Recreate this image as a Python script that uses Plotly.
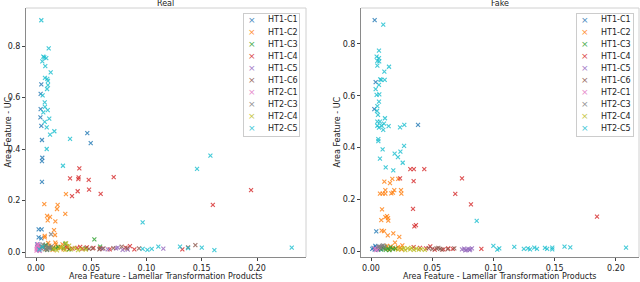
import plotly.graph_objects as go

W, H = 640, 282

names = ["HT1-C1", "HT1-C2", "HT1-C3", "HT1-C4", "HT1-C5",
         "HT1-C6", "HT2-C1", "HT2-C3", "HT2-C4", "HT2-C5"]
colors = ["#1f77b4", "#ff7f0e", "#2ca02c", "#d62728", "#9467bd",
          "#8c564b", "#e377c2", "#7f7f7f", "#bcbd22", "#17becf"]

x_ticks = [0.00, 0.05, 0.10, 0.15, 0.20]
y_ticks = [0.0, 0.2, 0.4, 0.6, 0.8]

# ---------------- Real ----------------
real_ht1_c1 = [(0.0048, 0.651), (0.0042, 0.614), (0.0042, 0.555), (0.0040, 0.523),
               (0.0048, 0.490), (0.0464, 0.462), (0.0054, 0.435), (0.0495, 0.423),
               (0.0057, 0.366), (0.0054, 0.353), (0.0054, 0.272), (0.0024, 0.088),
               (0.0051, 0.088), (0.0048, 0.053), (0.0024, 0.057), (0.0010, 0.030),
               (0.0020, 0.012), (0.0030, 0.006), (0.0015, 0.020), (0.0040, 0.015),
               (0.0025, 0.025)]
real_ht1_c2 = [(0.0271, 0.225), (0.0075, 0.186), (0.0196, 0.183), (0.0190, 0.167),
               (0.0265, 0.148), (0.0100, 0.140), (0.0127, 0.136), (0.0106, 0.123),
               (0.0175, 0.119), (0.0163, 0.085), (0.0172, 0.066), (0.0079, 0.063),
               (0.0079, 0.057), (0.0175, 0.036), (0.0060, 0.020), (0.0090, 0.012),
               (0.0120, 0.025), (0.0150, 0.008), (0.0180, 0.030), (0.0200, 0.015),
               (0.0220, 0.020), (0.0250, 0.010), (0.0280, 0.022), (0.0300, 0.012),
               (0.0110, 0.035), (0.0160, 0.018), (0.0240, 0.030)]
real_ht1_c3 = [(0.0528, 0.049), (0.0080, 0.025), (0.0120, 0.018), (0.0150, 0.012),
               (0.0200, 0.020), (0.0250, 0.015), (0.0265, 0.032), (0.0300, 0.010),
               (0.0450, 0.015), (0.0580, 0.021), (0.0100, 0.008), (0.0180, 0.015),
               (0.0090, 0.027)]
real_ht1_c4 = [(0.0392, 0.325), (0.0308, 0.286), (0.0386, 0.290), (0.0383, 0.283),
               (0.0477, 0.280), (0.0703, 0.291), (0.0480, 0.242), (0.0377, 0.236),
               (0.0326, 0.217), (0.0585, 0.226), (0.1946, 0.240), (0.1600, 0.183),
               (0.1324, 0.010), (0.0890, 0.010), (0.0850, 0.023), (0.0810, 0.017),
               (0.0667, 0.010), (0.0580, 0.014), (0.0460, 0.018), (0.0400, 0.020),
               (0.0370, 0.016), (0.0330, 0.013), (0.0280, 0.017), (0.0420, 0.012),
               (0.0520, 0.016)]
real_ht1_c5 = [(0.0784, 0.008), (0.0724, 0.014), (0.1152, 0.013), (0.0649, 0.010),
               (0.0600, 0.012), (0.0740, 0.017), (0.0830, 0.009)]
real_ht1_c6 = [(0.1442, 0.027), (0.1376, 0.018), (0.0932, 0.014), (0.0775, 0.021),
               (0.0824, 0.014), (0.0573, 0.010), (0.0610, 0.014), (0.0513, 0.014),
               (0.0700, 0.015), (0.0480, 0.012)]
real_ht2_c1 = [(0.0005, 0.005), (0.0010, 0.015), (0.0015, 0.028), (0.0020, 0.008),
               (0.0025, 0.020), (0.0030, 0.012), (0.0010, 0.022), (0.0035, 0.004),
               (0.0020, 0.031), (0.0005, 0.011)]
real_ht2_c3 = [(0.0136, 0.069), (0.0050, 0.020), (0.0070, 0.015), (0.0090, 0.025),
               (0.0110, 0.018), (0.0130, 0.012), (0.0060, 0.030), (0.0100, 0.008),
               (0.0140, 0.022), (0.0125, 0.016), (0.0080, 0.010)]
real_ht2_c4 = [(0.0160, 0.012), (0.0190, 0.006), (0.0220, 0.015), (0.0265, 0.008),
               (0.0272, 0.034), (0.0317, 0.010), (0.0350, 0.016), (0.0380, 0.007),
               (0.0410, 0.012), (0.0450, 0.009), (0.0240, 0.020), (0.0300, 0.025)]
real_ht2_c5 = [(0.0048, 0.900), (0.0115, 0.791), (0.0066, 0.759), (0.0075, 0.756),
               (0.0093, 0.753), (0.0057, 0.740), (0.0084, 0.722), (0.0133, 0.698),
               (0.0081, 0.676), (0.0102, 0.672), (0.0108, 0.665), (0.0108, 0.648),
               (0.0100, 0.633), (0.0060, 0.608), (0.0079, 0.581), (0.0081, 0.564),
               (0.0106, 0.551), (0.0066, 0.542), (0.0120, 0.518), (0.0079, 0.505),
               (0.0097, 0.484), (0.0166, 0.469), (0.0127, 0.456), (0.0308, 0.439),
               (0.0097, 0.400), (0.0244, 0.335), (0.1457, 0.323), (0.1578, 0.374),
               (0.0965, 0.115), (0.2314, 0.017), (0.1614, 0.007), (0.1500, 0.017),
               (0.1303, 0.021), (0.1376, 0.015), (0.1107, 0.021), (0.1047, 0.012),
               (0.1008, 0.008), (0.0965, 0.012), (0.0030, 0.010), (0.0060, 0.020)]

# ---------------- Fake ----------------
fake_ht1_c1 = [(0.0030, 0.892), (0.0038, 0.653), (0.0027, 0.548), (0.0384, 0.487),
               (0.0043, 0.076), (0.0010, 0.008), (0.0020, 0.012), (0.0030, 0.005),
               (0.0040, 0.015), (0.0050, 0.009), (0.0060, 0.004), (0.0070, 0.012),
               (0.0080, 0.007), (0.0035, 0.020), (0.0090, 0.010)]
fake_ht1_c2 = [(0.0222, 0.279), (0.0174, 0.279), (0.0109, 0.268), (0.0155, 0.262),
               (0.0190, 0.235), (0.0245, 0.235), (0.0248, 0.222), (0.0179, 0.226),
               (0.0166, 0.223), (0.0117, 0.235), (0.0117, 0.222), (0.0095, 0.222),
               (0.0073, 0.222), (0.0090, 0.161), (0.0131, 0.135), (0.0117, 0.131),
               (0.0139, 0.127), (0.0084, 0.119), (0.0141, 0.117), (0.0106, 0.077),
               (0.0087, 0.079), (0.0182, 0.068), (0.0137, 0.060), (0.0231, 0.055),
               (0.0196, 0.032), (0.0256, 0.022), (0.0120, 0.010), (0.0150, 0.005),
               (0.0180, 0.012), (0.0200, 0.008), (0.0220, 0.015), (0.0160, 0.018),
               (0.0250, 0.006), (0.0130, 0.020), (0.0240, 0.012)]
fake_ht1_c3 = [(0.0080, 0.006), (0.0100, 0.012), (0.0120, 0.004), (0.0140, 0.009),
               (0.0160, 0.014), (0.0180, 0.007), (0.0110, 0.016), (0.0200, 0.010),
               (0.0150, 0.003)]
fake_ht1_c4 = [(0.0321, 0.316), (0.0350, 0.316), (0.0435, 0.316), (0.0743, 0.281),
               (0.0348, 0.270), (0.0688, 0.221), (0.0816, 0.180), (0.0343, 0.163),
               (0.0367, 0.100), (0.0354, 0.095), (0.1845, 0.133), (0.0237, 0.281),
               (0.0901, 0.008), (0.0667, 0.008), (0.0592, 0.006), (0.0484, 0.018),
               (0.0348, 0.015), (0.0450, 0.010), (0.0520, 0.005), (0.0630, 0.010),
               (0.0400, 0.012)]
fake_ht1_c5 = [(0.0743, 0.006), (0.0760, 0.009), (0.0780, 0.004), (0.0795, 0.008),
               (0.0810, 0.006), (0.0824, 0.010), (0.0770, 0.002), (0.0805, 0.003)]
fake_ht1_c6 = [(0.0680, 0.010), (0.0627, 0.007), (0.0580, 0.005), (0.0565, 0.008),
               (0.0550, 0.012), (0.0535, 0.010), (0.0500, 0.007), (0.0470, 0.011)]
fake_ht2_c1 = [(0.0030, 0.010), (0.0050, 0.006), (0.0070, 0.015), (0.0040, 0.003),
               (0.0060, 0.011)]
fake_ht2_c3 = [(0.0070, 0.018), (0.0090, 0.020), (0.0080, 0.014), (0.0110, 0.017),
               (0.0100, 0.022), (0.0060, 0.016)]
fake_ht2_c4 = [(0.0220, 0.005), (0.0250, 0.008), (0.0280, 0.003), (0.0300, 0.010),
               (0.0320, 0.006), (0.0350, 0.004), (0.0370, 0.009), (0.0390, 0.005),
               (0.0410, 0.007), (0.0440, 0.004), (0.0270, 0.011), (0.0330, 0.012)]
fake_ht2_c5 = [(0.0100, 0.875), (0.0065, 0.774), (0.0046, 0.751), (0.0065, 0.745),
               (0.0052, 0.735), (0.0067, 0.733), (0.0052, 0.716), (0.0147, 0.712),
               (0.0109, 0.693), (0.0084, 0.661), (0.0112, 0.661), (0.0075, 0.663),
               (0.0065, 0.642), (0.0038, 0.626), (0.0046, 0.603), (0.0068, 0.605),
               (0.0065, 0.577), (0.0052, 0.560), (0.0049, 0.541), (0.0057, 0.526),
               (0.0114, 0.513), (0.0052, 0.500), (0.0073, 0.500), (0.0106, 0.492),
               (0.0052, 0.484), (0.0087, 0.484), (0.0065, 0.477), (0.0100, 0.468),
               (0.0144, 0.483), (0.0237, 0.478), (0.0272, 0.487), (0.0060, 0.432),
               (0.0060, 0.425), (0.0270, 0.406), (0.0095, 0.393), (0.0240, 0.384),
               (0.0193, 0.376), (0.0220, 0.363), (0.0073, 0.357), (0.0259, 0.341),
               (0.0120, 0.323), (0.0182, 0.312), (0.0863, 0.116), (0.2082, 0.013),
               (0.1627, 0.014), (0.1580, 0.017), (0.1480, 0.013), (0.1480, 0.006),
               (0.1438, 0.008), (0.1420, 0.012), (0.1355, 0.008), (0.1333, 0.013),
               (0.1298, 0.006), (0.1281, 0.010), (0.1248, 0.008), (0.1170, 0.016),
               (0.1047, 0.010), (0.1031, 0.005), (0.0999, 0.020)]

real_series = [real_ht1_c1, real_ht1_c2, real_ht1_c3, real_ht1_c4, real_ht1_c5,
               real_ht1_c6, real_ht2_c1, real_ht2_c3, real_ht2_c4, real_ht2_c5]
fake_series = [fake_ht1_c1, fake_ht1_c2, fake_ht1_c3, fake_ht1_c4, fake_ht1_c5,
               fake_ht1_c6, fake_ht2_c1, fake_ht2_c3, fake_ht2_c4, fake_ht2_c5]

FONT = "DejaVu Sans"
TXT = "#222222"


def px(x):
    return x / W


def py(y):
    return 1 - y / H


fig = go.Figure()
for panel, series_list in ((1, real_series), (2, fake_series)):
    suffix = "" if panel == 1 else "2"
    for name, color, pts in zip(names, colors, series_list):
        fig.add_trace(go.Scatter(
            x=[p[0] for p in pts], y=[p[1] for p in pts],
            mode="markers", name=name, showlegend=False,
            xaxis="x" + suffix, yaxis="y" + suffix,
            marker=dict(symbol="x-thin", size=4, color=color, opacity=0.8,
                        line=dict(width=1.1, color=color)),
        ))

# panel geometry in pixels
panels = {
    1: dict(l=26, r=306, t=8, b=257, xr=[-0.00905, 0.2443], yr=[-0.0194, 0.9476],
            title="Real", tx=165, ylx=8, leg_l=243, leg_r=300),
    2: dict(l=361, r=639, t=8, b=257, xr=[-0.00816, 0.2188], yr=[-0.0232, 0.9391],
            title="Fake", tx=500, ylx=337, leg_l=576, leg_r=634),
}

axis_common = dict(showgrid=False, zeroline=False, showline=True, linecolor="#8a8a8a",
                   linewidth=1, mirror=False, ticks="outside", ticklen=3,
                   tickwidth=1, tickcolor="#444444",
                   tickfont=dict(family=FONT, size=8, color=TXT))

layout = dict(width=W, height=H, margin=dict(l=0, r=0, t=0, b=0),
              plot_bgcolor="white", paper_bgcolor="white",
              font=dict(family=FONT, size=8, color=TXT),
              showlegend=False)
annotations = []
shapes = []
for k, p in panels.items():
    sx = "xaxis" if k == 1 else "xaxis2"
    sy = "yaxis" if k == 1 else "yaxis2"
    xref = "x" if k == 1 else "x2"
    yref = "y" if k == 1 else "y2"
    layout[sx] = dict(axis_common, domain=[px(p["l"]), px(p["r"])], range=p["xr"],
                      anchor=yref, tickvals=x_ticks, tickformat=".2f")
    layout[sy] = dict(axis_common, domain=[py(p["b"]), py(p["t"])], range=p["yr"],
                      anchor=xref, tickvals=y_ticks, tickformat=".1f")
    # light top/right spines
    shapes.append(dict(type="line", xref=xref + " domain", yref=yref + " domain",
                       x0=0, x1=1, y0=1, y1=1, line=dict(color="#d0d0d0", width=1)))
    shapes.append(dict(type="line", xref=xref + " domain", yref=yref + " domain",
                       x0=1, x1=1, y0=0, y1=1, line=dict(color="#d0d0d0", width=1)))
    # title
    annotations.append(dict(text=p["title"], x=px(p["tx"]), y=py(3.5), xref="paper",
                            yref="paper", xanchor="center", yanchor="middle",
                            showarrow=False, font=dict(size=8, color=TXT)))
    # axis titles
    annotations.append(dict(text="Area Feature - Lamellar Transformation Products",
                            x=px((p["l"] + p["r"]) / 2), y=0, xref="paper",
                            yref="paper", xanchor="center", yanchor="bottom",
                            showarrow=False, borderpad=0,
                            font=dict(size=8, color=TXT)))
    annotations.append(dict(text="Area Feature - UC", textangle=-90,
                            x=px(p["ylx"]), y=py((p["t"] + p["b"]) / 2), xref="paper",
                            yref="paper", xanchor="center", yanchor="middle",
                            showarrow=False, font=dict(size=8, color=TXT)))
    # legend box
    leg_t, leg_b = 13, 137
    annotations.append(dict(text=" ", x=px(p["leg_l"]), y=py(leg_t), xref="paper",
                            yref="paper", xanchor="left", yanchor="top",
                            width=p["leg_r"] - p["leg_l"] - 2, height=leg_b - leg_t - 2,
                            bgcolor="rgba(255,255,255,0.85)", bordercolor="#cccccc",
                            borderwidth=1, borderpad=0, showarrow=False))
    for i, (name, color) in enumerate(zip(names, colors)):
        yy = 20 + 12.04 * i
        annotations.append(dict(text="\u00d7", x=px(p["leg_l"] + 9), y=py(yy),
                                xref="paper", yref="paper", xanchor="center",
                                yanchor="middle", showarrow=False, opacity=0.85,
                                font=dict(size=9, color=color)))
        annotations.append(dict(text=name, x=px(p["leg_l"] + 23), y=py(yy),
                                xref="paper", yref="paper", xanchor="left",
                                yanchor="middle", showarrow=False,
                                font=dict(size=8, color=TXT)))

layout["annotations"] = annotations
layout["shapes"] = shapes
fig.update_layout(**layout)
fig.write_html(
    "out.html",
    config={"displayModeBar": False},
    post_script="document.body.style.margin='0';document.body.style.overflow='hidden';",
)
